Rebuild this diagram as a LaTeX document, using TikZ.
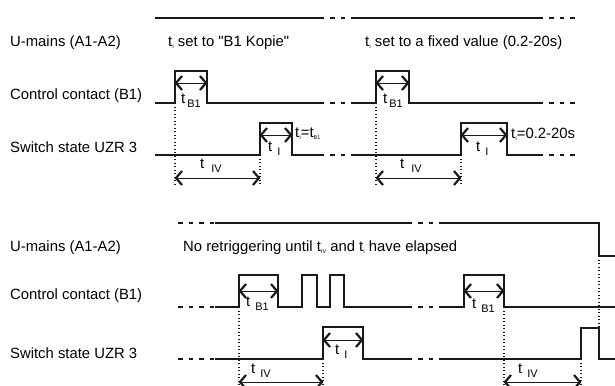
\documentclass[tikz,border=0pt]{standalone}
\usepackage{fontspec}
\setmainfont{Liberation Sans}

\newcommand{\tsub}[2]{t\hspace{#1}\raisebox{-4pt}{\fontsize{11}{11}\selectfont #2}}
\newcommand{\tix}[1]{t\raisebox{-2pt}{\fontsize{5.5}{6}\selectfont #1}}
% dimension arrow between x=#1 and x=#2 at height #3
\newcommand{\dimarr}[3]{%
  \draw[dimline] (#1,#3) -- (#2,#3);
  \draw[headline] ($(#1,#3)+(7,-7)$) -- ($(#1,#3)+(1,0)$) -- ($(#1,#3)+(7,7)$);
  \draw[headline] ($(#2,#3)+(-7,-7)$) -- ($(#2,#3)+(-1,0)$) -- ($(#2,#3)+(-7,7)$);}

\usetikzlibrary{calc}

\begin{document}
\begin{tikzpicture}[x=1bp,y=-1bp,
    sig/.style={black!90,line width=1.8bp},
    gapline/.style={black!90,line width=1.8bp,dash pattern=on 4.5bp off 6bp,dash phase=-6bp},
    dotline/.style={black!90,line width=1.1bp,dash pattern=on 1.2bp off 2.3bp},
    dimline/.style={black!90,line width=1bp},
    headline/.style={black!90,line width=2.2bp,miter limit=10},
    lbl/.style={anchor=west,inner sep=0pt,font=\fontsize{14.9}{17}\selectfont}]

          \useasboundingbox (0,0) rectangle (615,385);

          % signal names
          \node[lbl] (mainsA) at (10,43) {U-mains (A1-A2)};
          \node[lbl] (ctrlA) at (10,96) {Control contact (B1)};
          \node[lbl] (swA) at (10,147) {Switch state UZR 3};
          \node[lbl] (mainsB) at (10,248) {U-mains (A1-A2)};
          \node[lbl] (ctrlB) at (10,296) {Control contact (B1)};
          \node[lbl] (swB) at (10,353) {Switch state UZR 3};

          % upper diagram
          \draw[sig] (155,18) -- (324,18);
          \draw[gapline] (324,18) -- (352,18);
          \draw[sig] (352,18) -- (543,18);
          \draw[gapline] (543,18) -- (577,18);

          \draw[sig] (155,103) -- (175,103) -- (175,71) -- (207,71) -- (207,103) -- (324,103);
          \draw[gapline] (324,103) -- (352,103);
          \draw[sig] (352,103) -- (376,103) -- (376,71) -- (409,71) -- (409,103) -- (543,103);
          \draw[gapline] (543,103) -- (577,103);

          \draw[sig] (155,155) -- (260,155) -- (260,123) -- (292,123) -- (292,155) -- (324,155);
          \draw[gapline] (324,155) -- (352,155);
          \draw[sig] (352,155) -- (461,155) -- (461,123) -- (507,123) -- (507,155) -- (543,155);
          \draw[gapline] (543,155) -- (577,155);

          \draw[dotline] (175,103) -- (175,186);
          \draw[dotline] (260,155) -- (260,186);
          \draw[dotline] (376,103) -- (376,186);
          \draw[dotline] (461,155) -- (461,186);

          \dimarr{175}{207}{83}
          \dimarr{260}{292}{135}
          \dimarr{175}{260}{178}
          \dimarr{376}{409}{83}
          \dimarr{461}{507}{135}
          \dimarr{376}{461}{178}

          \node[lbl] (setA) at (168,43) {\tix{I} set to \textquotedbl B1 Kopie\textquotedbl};
          \node[lbl] (setB) at (365,43) {\tix{I} set to a fixed value (0.2-20s)};
          \node[lbl] (tbA) at (181,101) {\tsub{2bp}{B1}};
          \node[lbl] (tbB) at (383,101) {\tsub{2bp}{B1}};
          \node[lbl] (tivA) at (200,166) {\tsub{7bp}{IV}};
          \node[lbl] (tivB) at (400,166) {\tsub{7bp}{IV}};
          \node[lbl] (tiA) at (268,149) {\tsub{5bp}{I}};
          \node[lbl] (tiB) at (476,149) {\tsub{5bp}{I}};
          \node[lbl] (eqA) at (295,134) {\tix{I}=\tix{B1}};
          \node[lbl] (eqB) at (511,134) {\tix{I}=0.2-20s};

          % lower diagram
          \draw[gapline] (172,223) -- (215,223);
          \draw[sig] (215,223) -- (412,223);
          \draw[gapline] (412,223) -- (443,223);
          \draw[sig] (443,223) -- (599,223) -- (599,256) -- (615,256);

          \draw[gapline] (172,307) -- (215,307);
          \draw[sig] (215,307) -- (239,307) -- (239,275) -- (278,275) -- (278,307) -- (302,307) -- (302,275) -- (317,275)
              -- (317,307) -- (330,307) -- (330,275) -- (344,275) -- (344,307) -- (412,307);
          \draw[gapline] (412,307) -- (443,307);
          \draw[sig] (443,307) -- (464,307) -- (464,275) -- (504,275) -- (504,307) -- (615,307);

          \draw[gapline] (172,359) -- (215,359);
          \draw[sig] (215,359) -- (323,359) -- (323,327) -- (363,327) -- (363,359) -- (412,359);
          \draw[gapline] (412,359) -- (443,359);
          \draw[sig] (443,359) -- (581,359) -- (581,328) -- (599,328) -- (599,359) -- (615,359);

          \draw[dotline] (239,307) -- (239,385);
          \draw[dotline] (323,359) -- (323,385);
          \draw[dotline] (504,307) -- (504,385);
          \draw[dotline] (581,359) -- (581,385);
          \draw[dotline] (599,256) -- (599,328);

          \dimarr{239}{278}{291}
          \dimarr{323}{363}{340}
          \dimarr{239}{323}{382}
          \dimarr{464}{504}{291}
          \dimarr{504}{581}{382}

          \node[lbl] (noretrig) at (183,248) {No retriggering until \tix{IV} and \tix{I} have elapsed};
          \node[lbl] (tbC) at (246,304) {\tsub{5bp}{B1}};
          \node[lbl] (tbD) at (472,306) {\tsub{5bp}{B1}};
          \node[lbl] (tiC) at (335,352) {\tsub{5bp}{I}};
          \node[lbl] (tivC) at (251,371) {\tsub{5bp}{IV}};
          \node[lbl] (tivD) at (518,371) {\tsub{5bp}{IV}};
        \end{tikzpicture}
\end{document}
